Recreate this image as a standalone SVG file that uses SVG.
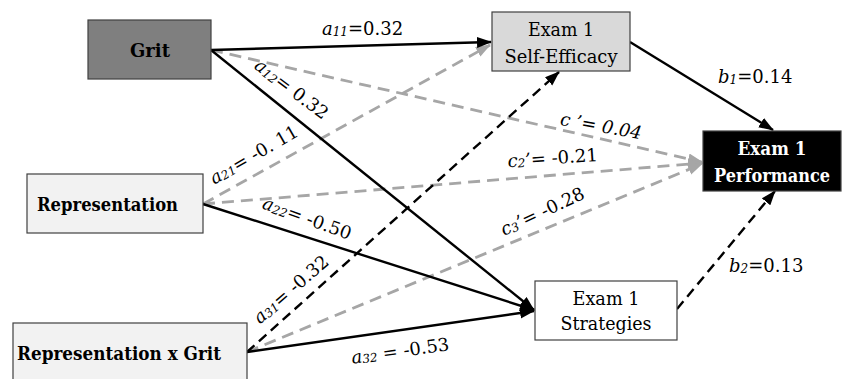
<svg xmlns="http://www.w3.org/2000/svg" width="842" height="379" viewBox="0 0 842 379">
<style>
  .box{stroke:#404040;stroke-width:1.2}
  text{font-family:'DejaVu Serif','Liberation Serif',serif}
  .nt{font-size:19px;fill:#000}
  .b{font-weight:bold}
  .lbl{font-size:18px;fill:#000}
  .it{font-style:italic}
  .sub{font-style:italic;font-size:12px}
  .solid{stroke:#000;stroke-width:2.4;fill:none}
  .bdash{stroke:#000;stroke-width:2.4;fill:none;stroke-dasharray:10 6}
  .gdash{stroke:#a6a6a6;stroke-width:2.8;fill:none;stroke-dasharray:12 7}
</style>
<defs>
  <marker id="ab" markerUnits="userSpaceOnUse" markerWidth="16" markerHeight="12" refX="14" refY="5.5" orient="auto">
    <path d="M0,0 L15,5.5 L0,11 z" fill="#000"/>
  </marker>
  <marker id="ag" markerUnits="userSpaceOnUse" markerWidth="16" markerHeight="12" refX="14" refY="5.5" orient="auto">
    <path d="M0,0 L15,5.5 L0,11 z" fill="#a6a6a6"/>
  </marker>
</defs>
<rect width="842" height="379" fill="#fff"/>

<g id="connectors">
  <line class="gdash" x1="211" y1="50" x2="702" y2="162" marker-end="url(#ag)"/>
  <line class="gdash" x1="203" y1="204" x2="490" y2="45" marker-end="url(#ag)"/>
  <line class="gdash" x1="203" y1="204" x2="702" y2="163" marker-end="url(#ag)"/>
  <line class="gdash" x1="247" y1="352" x2="702" y2="164" marker-end="url(#ag)"/>
  <line class="solid" x1="211" y1="50" x2="491" y2="42" marker-end="url(#ab)"/>
  <line class="solid" x1="211" y1="50" x2="534" y2="310" marker-end="url(#ab)"/>
  <line class="solid" x1="203" y1="204" x2="534" y2="310" marker-end="url(#ab)"/>
  <line class="solid" x1="247" y1="352" x2="534" y2="311" marker-end="url(#ab)"/>
  <line class="bdash" x1="247" y1="352" x2="559" y2="72" marker-end="url(#ab)"/>
  <line class="solid" x1="630" y1="42" x2="773" y2="130" marker-end="url(#ab)"/>
  <line class="bdash" x1="677" y1="309" x2="775" y2="191" marker-end="url(#ab)"/>

  <text class="lbl" x="322" y="35"><tspan class="it">a</tspan><tspan class="sub" dy="1">11</tspan><tspan dy="-1">=0.32</tspan></text>
  <text class="lbl" transform="translate(288,94) rotate(37)" text-anchor="middle"><tspan class="it">a</tspan><tspan class="sub" dy="1">12</tspan><tspan dy="-1">= 0.32</tspan></text>
  <text class="lbl" transform="translate(257,160) rotate(-30)" text-anchor="middle"><tspan class="it">a</tspan><tspan class="sub" dy="1">21</tspan><tspan dy="-1">= -0. 11</tspan></text>
  <text class="lbl" transform="translate(305,224) rotate(20)" text-anchor="middle"><tspan class="it">a</tspan><tspan class="sub" dy="1">22</tspan><tspan dy="-1">= -0.50</tspan></text>
  <text class="lbl" transform="translate(295,294) rotate(-41)" text-anchor="middle"><tspan class="it">a</tspan><tspan class="sub" dy="1">31</tspan><tspan dy="-1">= -0.32</tspan></text>
  <text class="lbl" transform="translate(401,357) rotate(-8)" text-anchor="middle"><tspan class="it">a</tspan><tspan class="sub" dy="1">32</tspan><tspan dy="-1"> = -0.53</tspan></text>
  <text class="lbl it" transform="translate(600,132) rotate(10)" text-anchor="middle">c ’= 0.04</text>
  <text class="lbl" transform="translate(553,164) rotate(-4)" text-anchor="middle"><tspan class="it">c</tspan><tspan class="sub" dy="1">2</tspan><tspan dy="-1" class="it">’</tspan><tspan>= -0.21</tspan></text>
  <text class="lbl" transform="translate(545,217) rotate(-25)" text-anchor="middle"><tspan class="it">c</tspan><tspan class="sub" dy="1">3</tspan><tspan dy="-1" class="it">’</tspan><tspan>= -0.28</tspan></text>
  <text class="lbl" x="718" y="83"><tspan class="it">b</tspan><tspan class="sub" dy="1">1</tspan><tspan dy="-1">=0.14</tspan></text>
  <text class="lbl" x="729" y="272"><tspan class="it">b</tspan><tspan class="sub" dy="1">2</tspan><tspan dy="-1">=0.13</tspan></text>
</g>

<g id="grit">
  <rect class="box" x="88" y="20" width="123" height="59" fill="#7f7f7f"/>
  <text class="nt b" x="150" y="57" text-anchor="middle" textLength="40" lengthAdjust="spacingAndGlyphs">Grit</text>
</g>
<g id="representation">
  <rect class="box" x="27" y="174" width="176" height="59" fill="#f2f2f2"/>
  <text class="nt b" x="37" y="211" textLength="141" lengthAdjust="spacingAndGlyphs">Representation</text>
</g>
<g id="repxgrit">
  <rect class="box" x="13" y="323" width="234" height="70" fill="#f2f2f2"/>
  <text class="nt b" x="17" y="360" textLength="204" lengthAdjust="spacingAndGlyphs">Representation x Grit</text>
</g>
<g id="selfefficacy">
  <rect class="box" x="492" y="12" width="138" height="59" fill="#d9d9d9"/>
  <text class="nt" x="561" y="36" text-anchor="middle" textLength="66" lengthAdjust="spacingAndGlyphs">Exam 1</text>
  <text class="nt" x="561" y="63" text-anchor="middle" textLength="113" lengthAdjust="spacingAndGlyphs">Self-Efficacy</text>
</g>
<g id="performance">
  <rect class="box" x="703" y="131" width="138" height="60" fill="#000"/>
  <text class="nt b" x="772" y="155" text-anchor="middle" style="fill:#fff" textLength="69" lengthAdjust="spacingAndGlyphs">Exam 1</text>
  <text class="nt b" x="772" y="182" text-anchor="middle" style="fill:#fff" textLength="116" lengthAdjust="spacingAndGlyphs">Performance</text>
</g>
<g id="strategies">
  <rect class="box" x="535" y="281" width="142" height="59" fill="#fff"/>
  <text class="nt" x="606" y="305" text-anchor="middle" textLength="67" lengthAdjust="spacingAndGlyphs">Exam 1</text>
  <text class="nt" x="606" y="330" text-anchor="middle" textLength="91" lengthAdjust="spacingAndGlyphs">Strategies</text>
</g>
</svg>
